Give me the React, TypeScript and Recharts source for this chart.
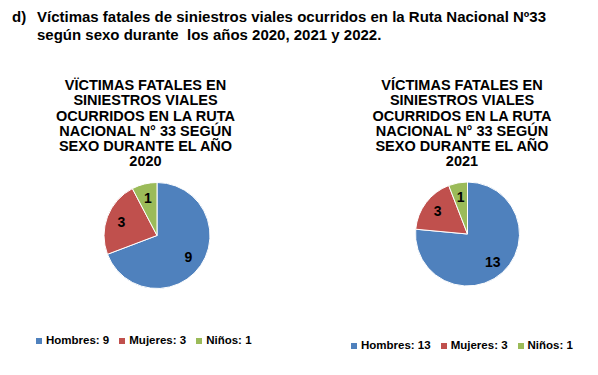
import React from "react";
import { PieChart, Pie, Cell, Legend } from "recharts";

const categories = ["Hombres", "Mujeres", "Niños"];
const values2020 = [9, 3, 1];
const values2021 = [13, 3, 1];
const colors = ["#4F81BD", "#C0504D", "#9BBB59"];
const title2020 = ["VÏCTIMAS FATALES EN", "SINIESTROS VIALES", "OCURRIDOS EN LA RUTA", "NACIONAL N° 33 SEGÚN", "SEXO DURANTE EL AÑO", "2020"];
const title2021 = ["VÍCTIMAS FATALES EN", "SINIESTROS VIALES", "OCURRIDOS EN LA RUTA", "NACIONAL N° 33 SEGÚN", "SEXO DURANTE EL AÑO", "2021"];
const headerLines = [
  "Víctimas fatales de siniestros viales ocurridos en la Ruta Nacional Nº33",
  "según sexo durante  los años 2020, 2021 y 2022.",
];

const FONT = "'Liberation Sans', Arial, sans-serif";
const RAD = Math.PI / 180;

function makeLabel(props: any) {
  const { cx, cy, midAngle, outerRadius, value } = props;
  const r = outerRadius * 0.72;
  const x = cx + r * Math.cos(-midAngle * RAD);
  const y = cy + r * Math.sin(-midAngle * RAD);
  return (
    <text x={x} y={y} textAnchor="middle" dominantBaseline="central" fill="#000" fontSize={14} fontWeight="bold" fontFamily={FONT}>
      {value}
    </text>
  );
}

function PieBlock({ values, title, left, chartW, cx, cy, r, titleX, legendLeft, legendTop }: any) {
  const data = categories.map((c, i) => ({ name: c, value: values[i] }));
  return (
    <div style={{ position: "absolute", left, top: 0, width: chartW, height: 375 }}>
      <div style={{ position: "absolute", left: titleX - 130, top: 78, width: 260, textAlign: "center", fontFamily: FONT, fontWeight: "bold", fontSize: 14.5, lineHeight: "15.3px", color: "#000" }}>
        {title.map((t: string, i: number) => (
          <div key={i} style={{ whiteSpace: "nowrap" }}>{t}</div>
        ))}
      </div>
      <PieChart width={chartW} height={375} margin={{ top: 0, right: 0, bottom: 0, left: 0 }} style={{ position: "absolute", left: 0, top: 0 }}>
        <Pie
          data={data}
          dataKey="value"
          nameKey="name"
          cx={cx}
          cy={cy}
          outerRadius={r}
          startAngle={90}
          endAngle={-270}
          stroke="#fff"
          strokeWidth={1}
          label={makeLabel}
          labelLine={false}
          isAnimationActive={false}
        >
          {data.map((d, i) => (
            <Cell key={d.name} fill={colors[i]} />
          ))}
        </Pie>
        <Legend
          verticalAlign="bottom"
          align="left"
          iconType="square"
          iconSize={6}
          wrapperStyle={{ position: "absolute", left: legendLeft, top: legendTop, bottom: "auto", width: "auto", fontFamily: FONT, fontWeight: "bold", fontSize: 11.5, lineHeight: "14px" }}
          formatter={(value: any, _e: any, index: number) => (
            <span style={{ color: "#000" }}>{`${categories[index]}: ${values[index]}`}</span>
          )}
        />
      </PieChart>
    </div>
  );
}

export default function App() {
  return (
    <div style={{ position: "absolute", left: 0, top: 0, width: 598, height: 375, background: "#fff", overflow: "hidden" }}>
      <div style={{ position: "absolute", left: 12, top: 8, fontFamily: FONT, fontWeight: "bold", fontSize: 15, lineHeight: "18px", color: "#000" }}>d)</div>
      <div style={{ position: "absolute", left: 37, top: 8, fontFamily: FONT, fontWeight: "bold", fontSize: 15, lineHeight: "18px", color: "#000", whiteSpace: "nowrap" }}>
        {headerLines.map((l, i) => (
          <div key={i} style={{ whiteSpace: "pre" }}>{l}</div>
        ))}
      </div>
      <PieBlock values={values2020} title={title2020} left={0} chartW={299} cx={157} cy={235.5} r={53} titleX={145.5} legendLeft={36} legendTop={333} />
      <PieBlock values={values2021} title={title2021} left={299} chartW={299} cx={168.5} cy={234} r={52} titleX={163} legendLeft={52} legendTop={338} />
    </div>
  );
}
